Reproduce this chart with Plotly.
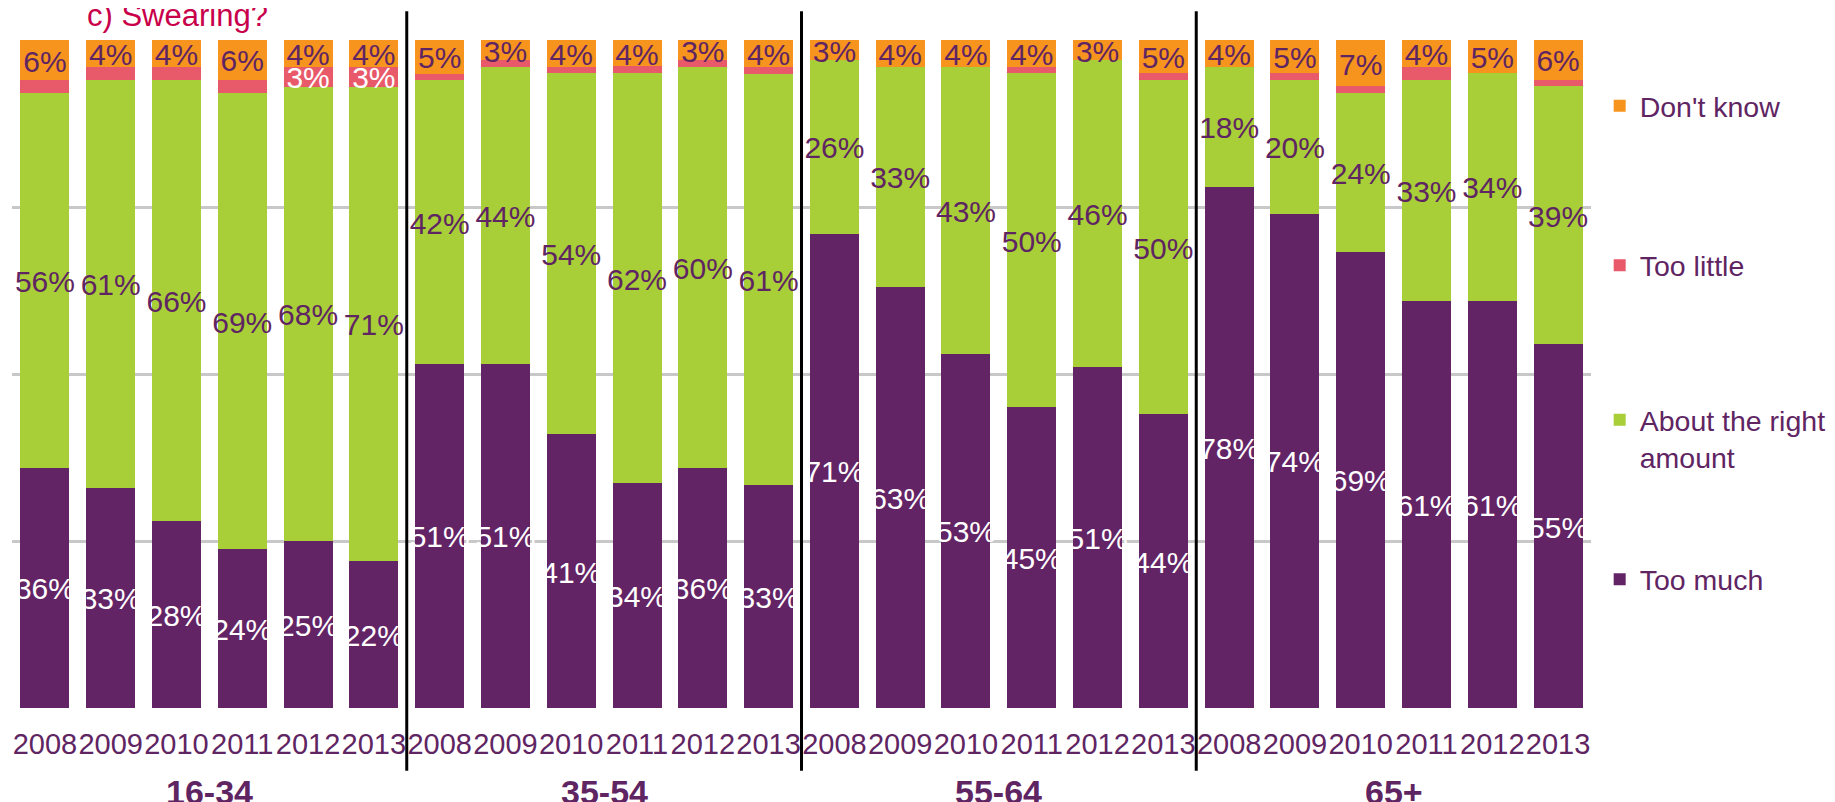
import plotly.graph_objects as go

# survey: "c) Swearing?" - share of answers by age group and year
groups = ["16-34", "35-54", "55-64", "65+"]
years = ["2008", "2009", "2010", "2011", "2012", "2013"]

too_much = [36, 33, 28, 24, 25, 22,
            51, 51, 41, 34, 36, 33,
            71, 63, 53, 45, 51, 44,
            78, 74, 69, 61, 61, 55]
about_right = [56, 61, 66, 69, 68, 71,
               42, 44, 54, 62, 60, 61,
               26, 33, 43, 50, 46, 50,
               18, 20, 24, 33, 34, 39]
too_little = [2, 2, 2, 2, 3, 3,
              1, 1, 1, 1, 1, 1,
              0, 0, 0, 1, 0, 1,
              0, 1, 1, 2, 0, 1]
dont_know = [6, 4, 4, 6, 4, 4,
             5, 3, 4, 4, 3, 4,
             3, 4, 4, 4, 3, 5,
             4, 5, 7, 4, 5, 6]

PURPLE = "#632466"
GREEN = "#a8ce38"
PINK = "#e8596a"
ORANGE = "#f7941e"
TXT = "#5f2563"
FONT = "Liberation Sans, Arial, sans-serif"

n = len(too_much)
xs = list(range(n))
# name, values, bar colour, label colour, smallest labelled value, legend
series = [
    ("Too much", too_much, PURPLE, "white", 1, "legend4"),
    ("About the right<br>amount", about_right, GREEN, TXT, 1, "legend3"),
    ("Too little", too_little, PINK, "white", 3, "legend2"),
    ("Don't know", dont_know, ORANGE, TXT, 1, "legend"),
]

totals = [sum(s[1][i] for s in series) for i in range(n)]

fig = go.Figure()
for name, vals, col, _, _, leg in series:
    fig.add_trace(go.Bar(x=xs, y=vals, name=name, marker_color=col,
                         marker_line_width=0, width=0.745, legend=leg))

# data labels, centred in each (normalised) segment
nudge = 0.6  # text sits a touch high otherwise
base = [0.0] * n
for name, vals, col, tcol, minv, _ in series:
    lx, ly, lt = [], [], []
    for i in range(n):
        h = vals[i] * 100.0 / totals[i]
        if vals[i] >= minv:
            lx.append(i)
            ly.append(base[i] + h / 2 - nudge)
            lt.append(f"{vals[i]}%")
        base[i] += h
    fig.add_trace(go.Scatter(x=lx, y=ly, text=lt, mode="text",
                             textfont=dict(size=30, color=tcol, family=FONT),
                             showlegend=False, hoverinfo="skip", cliponaxis=False))

# page body adds an 8px offset, margins take it back
fig.update_layout(barmode="stack", barnorm="percent", bargap=0,
                  width=1835, height=802,
                  margin=dict(l=4, r=252, t=32, b=102, autoexpand=False),
                  plot_bgcolor="white", paper_bgcolor="white",
                  font=dict(family=FONT, color=TXT))

fig.update_xaxes(range=[-0.5, n - 0.5], tickvals=xs, ticktext=years * len(groups),
                 tickfont=dict(size=29, color=TXT), tickangle=0, automargin=False,
                 ticklabelstandoff=16,
                 showgrid=False, zeroline=False, ticks="", showline=False)
fig.update_yaxes(range=[0, 100], tickvals=[0, 25, 50, 75, 100], showticklabels=False,
                 automargin=False, gridcolor="#c8c8c8", gridwidth=3,
                 zeroline=False, showline=False)

# legends, one per series so each sits where the original puts it
leg_y = {"legend": 0.901, "legend2": 0.662, "legend3": 0.403, "legend4": 0.192}
for key, yy in leg_y.items():
    fig.update_layout({key: dict(x=1.0055, xref="paper", y=yy, yanchor="middle",
                                 font=dict(size=28.5, color=TXT, family=FONT),
                                 valign="top", bgcolor="rgba(0,0,0,0)")})

# group dividers and group labels
for k in range(1, len(groups)):
    fig.add_shape(type="line", xref="x", yref="paper", x0=6 * k - 0.5, x1=6 * k - 0.5,
                  y0=-0.094, y1=1.043, line=dict(color="black", width=3))
for k, g in enumerate(groups):
    fig.add_annotation(x=6 * k + 2.5, xref="x", y=-0.1252, yref="paper", text=f"<b>{g}</b>",
                       showarrow=False, font=dict(size=34, color=TXT, family=FONT),
                       yanchor="middle")

fig.add_annotation(x=0.0462, xref="paper", xanchor="left", y=1.0, yref="paper",
                   yanchor="bottom", yshift=5, text="c) Swearing?", showarrow=False,
                   font=dict(size=31, color="#c8004a", family=FONT))

fig.write_html("out.html")
